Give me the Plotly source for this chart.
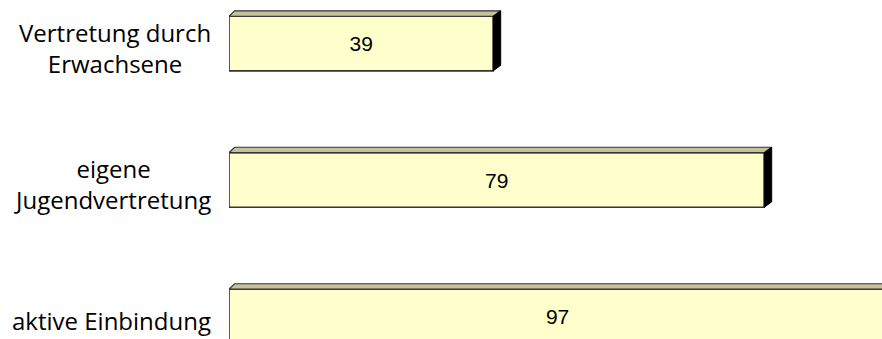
import plotly.graph_objects as go

categories = ["Vertretung durch<br>Erwachsene", "eigene<br>Jugendvertretung", "aktive Einbindung"]
values = [39, 79, 97]
positions = [0, 1, 2]

FRONT = "#FFFFCC"
TOP = "#C2C29C"
SIDE = "#000000"
EDGE = "#333333"

bar_w = 0.4
dx = 1.1    # depth offset in x units
dy = 0.04   # depth offset in y units (reversed axis: minus = up)

fig = go.Figure()

# top faces and side faces
for v, p in zip(values, positions):
    top = p - bar_w / 2
    bot = p + bar_w / 2
    fig.add_trace(go.Scatter(
        x=[0, v, v + dx, 0.75 * dx, 0], y=[top, top, top - dy, top - dy, top],
        mode="lines", fill="toself", fillcolor=TOP,
        line=dict(color=EDGE, width=1.2), hoverinfo="skip", showlegend=False))
    fig.add_trace(go.Scatter(
        x=[v, v + dx, v + dx, v, v], y=[top, top - dy, bot - dy, bot, top],
        mode="lines", fill="toself", fillcolor=SIDE,
        line=dict(color=SIDE, width=1), hoverinfo="skip", showlegend=False))

fig.add_trace(go.Bar(
    x=values, y=positions, orientation="h", width=bar_w,
    marker=dict(color=FRONT, line=dict(color=EDGE, width=1.6)),
    text=[str(v) for v in values], textposition="inside", insidetextanchor="middle",
    textfont=dict(family="Liberation Sans, Arial", size=21, color="black"),
    hoverinfo="skip", showlegend=False))

for c, p in zip(categories, positions):
    fig.add_annotation(
        x=0, xref="paper", y=p, yref="y", text=c, showarrow=False,
        xanchor="right", align="center", xshift=-16, yshift=-4,
        font=dict(family="Open Sans, Lato, sans-serif", size=24, color="black"))

fig.update_xaxes(range=[0, 96.38], showgrid=False, zeroline=False,
                 showticklabels=False, showline=False)
fig.update_yaxes(range=[2.165, -0.319], showgrid=False, zeroline=False,
                 showticklabels=False, showline=False)
fig.update_layout(
    width=882, height=339,
    margin=dict(l=229, r=0, t=0, b=0),
    plot_bgcolor="white", paper_bgcolor="white",
    barmode="overlay",
)

fig.write_html("out.html",
               config={"displayModeBar": False},
               post_script="document.body.style.margin='0';document.body.style.overflow='hidden';")
